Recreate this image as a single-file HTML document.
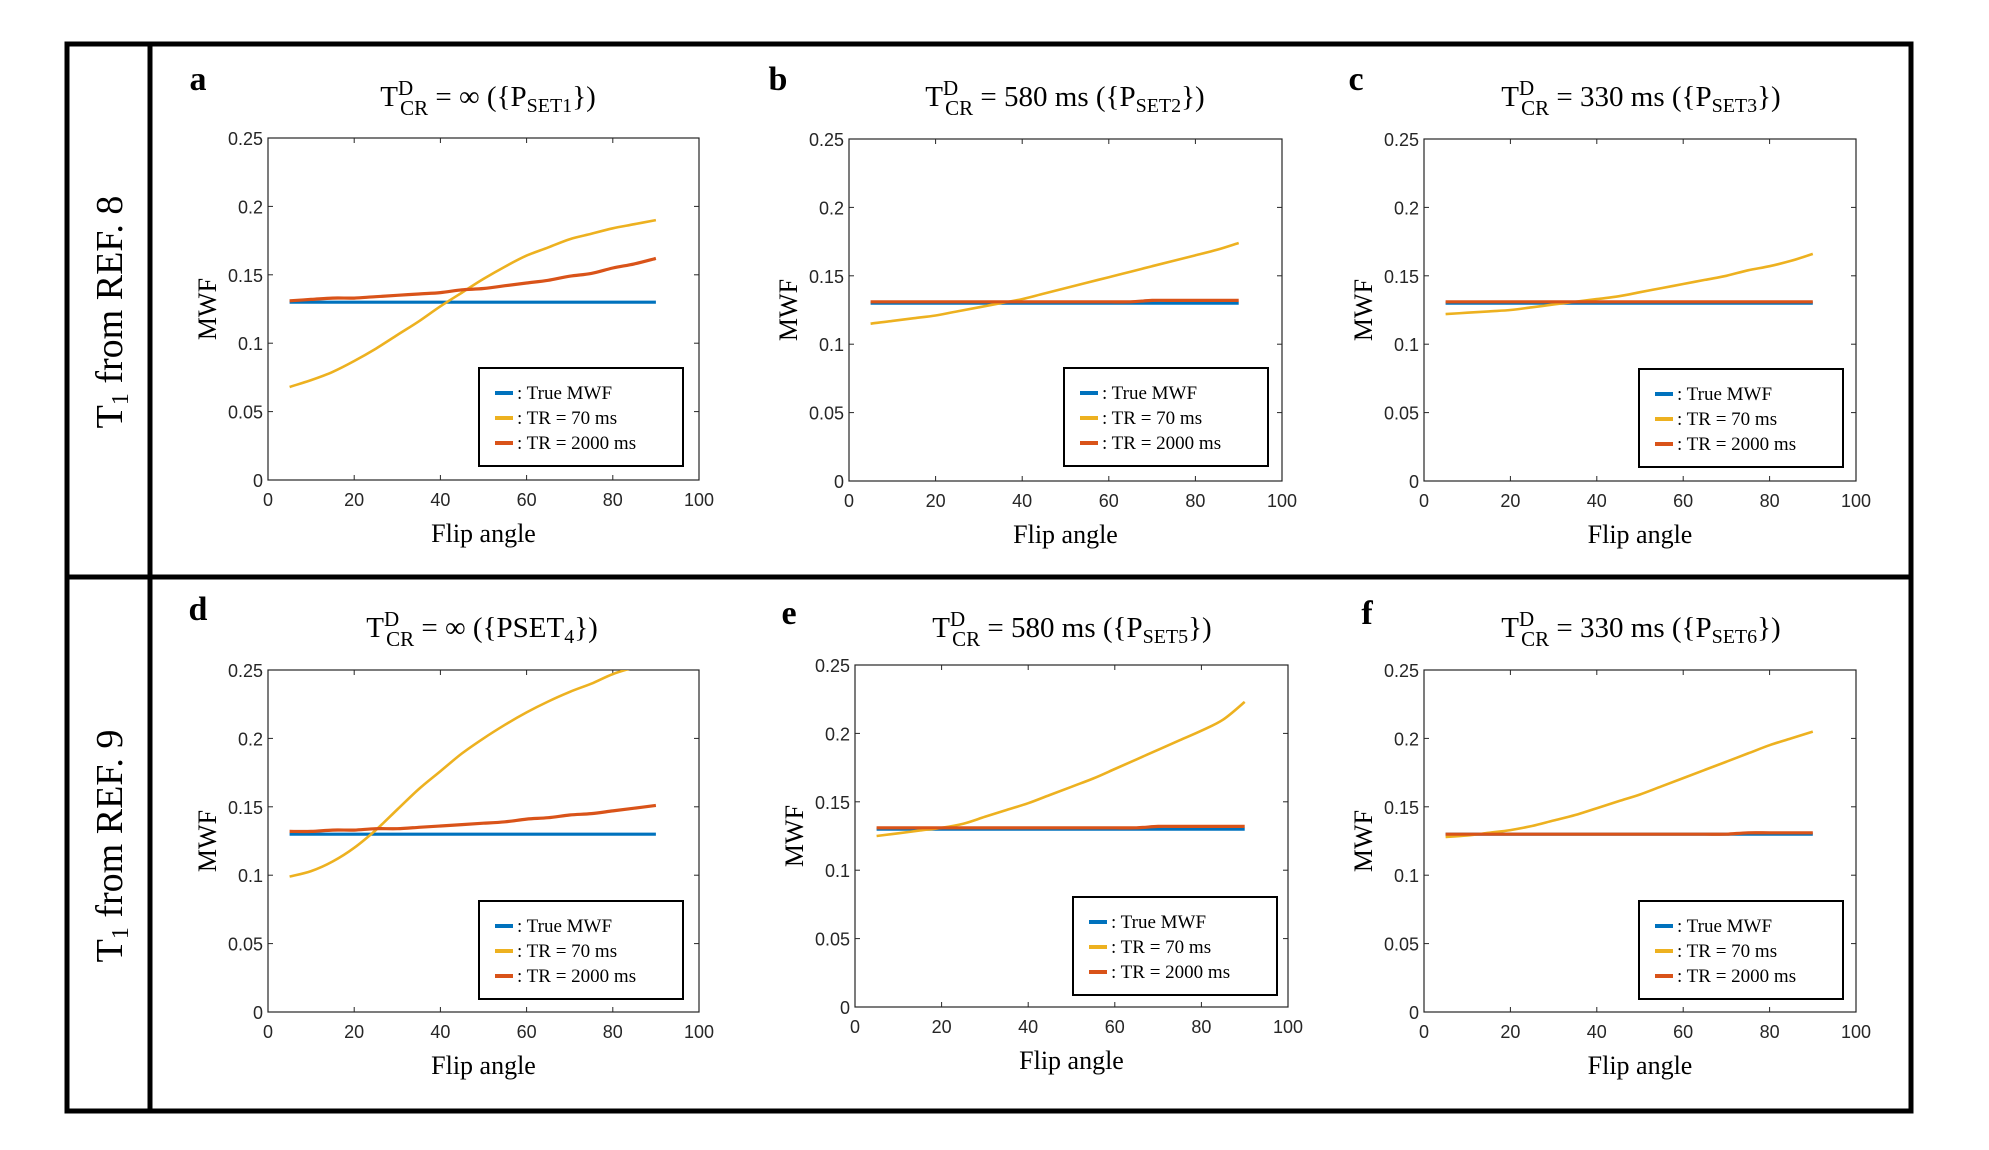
<!DOCTYPE html>
<html><head><meta charset="utf-8"><style>
html,body{margin:0;padding:0;background:#fff;}
svg{display:block;}
.tick{font-family:"Liberation Sans",sans-serif;font-size:18px;fill:#262626;}
.serif{font-family:"Liberation Serif",serif;fill:#000;}
</style></head><body>
<svg id="fig" width="1989" height="1150" viewBox="0 0 1989 1150" xmlns="http://www.w3.org/2000/svg">
<rect x="0" y="0" width="1989" height="1150" fill="#fff"/>
<g fill="none" stroke="#000" stroke-width="5">
<rect x="67" y="44" width="1844" height="1067"/>
<line x1="150" y1="44" x2="150" y2="1111"/>
<line x1="67" y1="577" x2="1911" y2="577"/>
</g>
<text class="serif" font-size="38" text-anchor="middle" transform="translate(122,312) rotate(-90)">T<tspan font-size="24" dy="6">1</tspan><tspan dy="-6"> from REF. 8</tspan></text>
<text class="serif" font-size="38" text-anchor="middle" transform="translate(122,846) rotate(-90)">T<tspan font-size="24" dy="6">1</tspan><tspan dy="-6"> from REF. 9</tspan></text>
<g id="panels"></g>
</svg>
<script>
const xVals = [5,10,15,20,25,30,35,40,45,50,55,60,65,70,75,80,85,90];
const xTicks = [0,20,40,60,80,100];
const yTicks = [0,0.05,0.1,0.15,0.2,0.25];
const yTickLabels = ["0","0.05","0.1","0.15","0.2","0.25"];
const seriesNames = [": True MWF", ": TR = 70 ms", ": TR = 2000 ms"];
const seriesColors = ["#0072BD","#EDB120","#D95319"];
const trueA = [0.13,0.13,0.13,0.13,0.13,0.13,0.13,0.13,0.13,0.13,0.13,0.13,0.13,0.13,0.13,0.13,0.13,0.13];
const tr70A = [0.068,0.073,0.079,0.087,0.096,0.106,0.116,0.127,0.137,0.147,0.156,0.164,0.170,0.176,0.180,0.184,0.187,0.190];
const tr2000A = [0.131,0.132,0.133,0.133,0.134,0.135,0.136,0.137,0.139,0.140,0.142,0.144,0.146,0.149,0.151,0.155,0.158,0.162];
const tr70B = [0.115,0.117,0.119,0.121,0.124,0.127,0.130,0.133,0.137,0.141,0.145,0.149,0.153,0.157,0.161,0.165,0.169,0.174];
const tr2000B = [0.131,0.131,0.131,0.131,0.131,0.131,0.131,0.131,0.131,0.131,0.131,0.131,0.131,0.132,0.132,0.132,0.132,0.132];
const tr70C = [0.122,0.123,0.124,0.125,0.127,0.129,0.131,0.133,0.135,0.138,0.141,0.144,0.147,0.150,0.154,0.157,0.161,0.166];
const tr2000C = [0.131,0.131,0.131,0.131,0.131,0.131,0.131,0.131,0.131,0.131,0.131,0.131,0.131,0.131,0.131,0.131,0.131,0.131];
const tr70D = [0.099,0.103,0.110,0.120,0.133,0.148,0.163,0.176,0.189,0.200,0.210,0.219,0.227,0.234,0.240,0.247,0.252,0.257];
const tr2000D = [0.132,0.132,0.133,0.133,0.134,0.134,0.135,0.136,0.137,0.138,0.139,0.141,0.142,0.144,0.145,0.147,0.149,0.151];
const tr70E = [0.125,0.127,0.129,0.131,0.134,0.139,0.144,0.149,0.155,0.161,0.167,0.174,0.181,0.188,0.195,0.202,0.210,0.223];
const tr2000E = [0.131,0.131,0.131,0.131,0.131,0.131,0.131,0.131,0.131,0.131,0.131,0.131,0.131,0.132,0.132,0.132,0.132,0.132];
const tr70F = [0.128,0.129,0.131,0.133,0.136,0.140,0.144,0.149,0.154,0.159,0.165,0.171,0.177,0.183,0.189,0.195,0.200,0.205];
const tr2000F = [0.130,0.130,0.130,0.130,0.130,0.130,0.130,0.130,0.130,0.130,0.130,0.130,0.130,0.130,0.131,0.131,0.131,0.131];

const panels = [
 {id:"a",L:268,R:699,T:138,B:480,tx:488,ty:96,lx:198,ly:90,sub:"SET1",sub2:"",lg:[479,368],s:[trueA,tr70A,tr2000A]},
 {id:"b",L:849,R:1282,T:139,B:481,tx:1065,ty:96,lx:778,ly:90,sub:"SET2",sub2:"580",lg:[1064,368],s:[trueA,tr70B,tr2000B]},
 {id:"c",L:1424,R:1856,T:139,B:481,tx:1641,ty:96,lx:1356,ly:90,sub:"SET3",sub2:"330",lg:[1639,369],s:[trueA,tr70C,tr2000C]},
 {id:"d",L:268,R:699,T:670,B:1012,tx:482,ty:627,lx:198,ly:620,sub:"4",sub2:"",pset:true,lg:[479,901],s:[trueA,tr70D,tr2000D]},
 {id:"e",L:855,R:1288,T:665,B:1007,tx:1072,ty:627,lx:789,ly:624,sub:"SET5",sub2:"580",lg:[1073,897],s:[trueA,tr70E,tr2000E]},
 {id:"f",L:1424,R:1856,T:670,B:1012,tx:1641,ty:627,lx:1367,ly:624,sub:"SET6",sub2:"330",lg:[1639,901],s:[trueA,tr70F,tr2000F]}
];
const NS="http://www.w3.org/2000/svg";
const root=document.getElementById("panels");
function mk(tag,attrs,parent){const e=document.createElementNS(NS,tag);for(const k in attrs)e.setAttribute(k,attrs[k]);(parent||root).appendChild(e);return e;}
function smooth(pts){
 let d="M"+pts[0][0].toFixed(1)+","+pts[0][1].toFixed(1);
 for(let i=0;i<pts.length-1;i++){
  const p0=pts[Math.max(0,i-1)],p1=pts[i],p2=pts[i+1],p3=pts[Math.min(pts.length-1,i+2)];
  const c1=[p1[0]+(p2[0]-p0[0])/6,p1[1]+(p2[1]-p0[1])/6];
  const c2=[p2[0]-(p3[0]-p1[0])/6,p2[1]-(p3[1]-p1[1])/6];
  d+=" C"+c1.map(v=>v.toFixed(1)).join(",")+" "+c2.map(v=>v.toFixed(1)).join(",")+" "+p2[0].toFixed(1)+","+p2[1].toFixed(1);
 }
 return d;
}
panels.forEach(p=>{
 const g=mk("g",{});
 
 
 const sx=v=>p.L+(v/100)*(p.R-p.L);
 const sy=v=>p.B-(v/0.25)*(p.B-p.T);
 const box=mk("rect",{x:p.L,y:p.T,width:p.R-p.L,height:p.B-p.T,fill:"#fff",stroke:"#262626","stroke-width":1.2},g);
 
 
 xTicks.forEach(t=>{
  const x=sx(t);
  mk("line",{x1:x,y1:p.B,x2:x,y2:p.B-5,stroke:"#262626"},g);
  mk("line",{x1:x,y1:p.T,x2:x,y2:p.T+5,stroke:"#262626"},g);
  const tl=mk("text",{x:x,y:p.B+26,"text-anchor":"middle",class:"tick"},g);
  tl.textContent=t;
  
  
 });
 yTicks.forEach((t,i)=>{
  const y=sy(t);
  mk("line",{x1:p.L,y1:y,x2:p.L+5,y2:y,stroke:"#262626"},g);
  mk("line",{x1:p.R,y1:y,x2:p.R-5,y2:y,stroke:"#262626"},g);
  const tl=mk("text",{x:p.L-5,y:y+7,"text-anchor":"end",class:"tick"},g);
  tl.textContent=yTickLabels[i];
  
  
 });
 const cp=mk("clipPath",{id:"clip"+p.id},g);
 mk("rect",{x:p.L,y:p.T,width:p.R-p.L,height:p.B-p.T},cp);
 p.s.forEach((arr,si)=>{
  const pts=arr.map((v,i)=>[sx(xVals[i]),sy(v)]);
  const pa=mk("path",{d:smooth(pts),fill:"none",stroke:seriesColors[si],"stroke-width":si===1?2.6:3.2,"clip-path":"url(#clip"+p.id+")"},g);
  
  
 });
 const lx=p.lg[0], ly=p.lg[1];
 const lr=mk("rect",{x:lx,y:ly,width:204,height:98,fill:"#fff",stroke:"#000","stroke-width":2},g);
 
 
 seriesNames.forEach((n,i)=>{
  const yy=ly+25+i*25;
  mk("line",{x1:lx+16,y1:yy,x2:lx+34,y2:yy,stroke:seriesColors[i],"stroke-width":4},g);
  const t=mk("text",{x:lx+38,y:yy+6,class:"serif","font-size":19},g);
  t.textContent=n;
  
  
 });
 const xl=mk("text",{x:(p.L+p.R)/2,y:p.B+62,"text-anchor":"middle",class:"serif","font-size":26},g);
 xl.textContent="Flip angle";
 
 
 const yl=mk("text",{transform:`translate(${p.L-52},${(p.T+p.B)/2}) rotate(-90)`,"text-anchor":"middle",class:"serif","font-size":26},g);
 yl.textContent="MWF";
 
 
 const lt=mk("text",{x:p.lx,y:p.ly,"text-anchor":"middle",class:"serif","font-size":34,"font-weight":"bold"},g);
 lt.textContent=p.id;
 
 
 const title=mk("text",{x:p.tx,y:p.ty+10,"text-anchor":"middle",class:"serif","font-size":29},g);
 
 
 const val=p.sub2?(" = "+p.sub2+" ms  "):" = \u221E ";
 const mid=p.pset?"({PSET":"({P";
 title.innerHTML=`T<tspan font-size="21" dy="-11">D</tspan><tspan font-size="21" dx="-13" dy="20">CR</tspan><tspan dy="-9">${val}${mid}</tspan><tspan font-size="20" dy="6">${p.sub}</tspan><tspan dy="-6">})</tspan>`;
});
</script>
</body></html>
